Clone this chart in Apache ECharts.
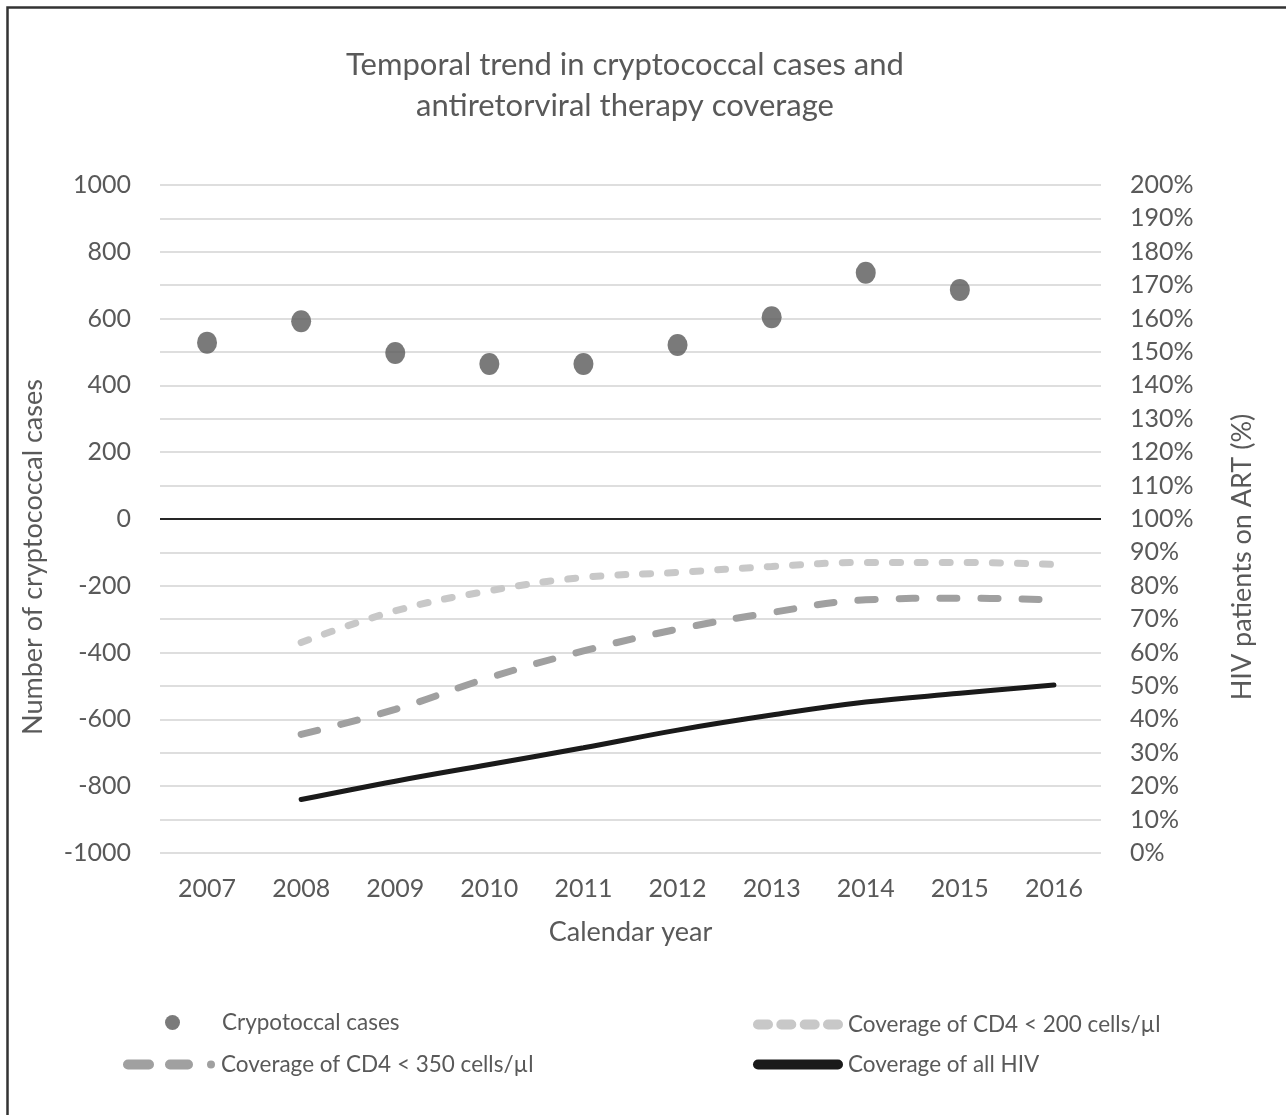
<!DOCTYPE html>
<html>
<head>
<meta charset="utf-8">
<script src="https://cdn.jsdelivr.net/npm/echarts@6/dist/echarts.min.js"></script>
<style>
  html, body { margin: 0; padding: 0; background: #fff; }
  #div1 { width: 1286px; height: 1115px; }
</style>
</head>
<body>
<div id="div1"></div>
<script>
var years = ['2007', '2008', '2009', '2010', '2011', '2012', '2013', '2014', '2015', '2016'];
var cases = [528, 592, 497, 464, 464, 521, 604, 737, 686, null];
var cd4Under200 = [null, 63, 72.5, 78.5, 82.5, 84, 85.8, 87, 87, 86.4];
var cd4Under350 = [null, 35.5, 43, 52.5, 60.5, 67, 72, 75.8, 76.3, 75.8];
var allHiv = [null, 16, 21.5, 26.5, 31.5, 36.8, 41.3, 45.2, 47.8, 50.3];
var leftTicks = { min: -1000, max: 1000, step: 200 };
var rightTicks = { min: 0, max: 200, step: 10 };

// rounded pill from x0, length len, in a 10px high icon box
function pill(x0, len) {
    var r = 5;
    return 'M' + (x0 + r) + ',0 h' + (len - 2 * r) + ' a5,5 0 0 1 0,10 h' + (-(len - 2 * r)) +
        ' a5,5 0 0 1 0,-10 z ';
}

window.onload = function () {
    var font = 'Lato';
    var txt = '#595959';

    // split line colours: black at 100% (= 0 cases)
    var gridColors = [];
    for (var v = rightTicks.min; v <= rightTicks.max; v += rightTicks.step) {
        gridColors.push(v === 100 ? '#262626' : '#dedede');
    }

    var icon200 = 'path://' + pill(0, 20) + pill(23.3, 20) + pill(46.7, 20) + pill(70, 20);
    var icon350 = 'path://' + pill(0, 31) + pill(42, 28) + 'M84,5 a4,4 0 1 0 8,0 a4,4 0 1 0 -8,0 z';
    var iconAll = 'path://' + pill(0, 90);

    function legendAt(left, top, name, icon, w, gap) {
        return {
            left: left,
            top: top,
            data: [{ name: name, icon: icon }],
            itemWidth: w,
            itemHeight: 10,
            textStyle: { fontFamily: font, fontSize: 22.5, color: txt, padding: [0, 0, 0, gap] }
        };
    }

    var option = {
        animation: false,
        backgroundColor: '#fff',
        title: {
            text: 'Temporal trend in cryptococcal cases and\nantiretorviral therapy coverage',
            left: 620,
            top: 39,
            textAlign: 'center',
            textStyle: {
                fontFamily: font,
                fontSize: 31,
                fontWeight: 'normal',
                color: txt,
                lineHeight: 41
            }
        },
        legend: [
            {
                left: 160,
                top: 1006,
                data: [{ name: 'Crypotoccal cases', icon: 'circle' }],
                itemWidth: 15,
                itemHeight: 18,
                textStyle: { fontFamily: font, fontSize: 22.5, color: txt, padding: [0, 0, 0, 37] }
            },
            legendAt(748, 1008, 'Coverage of CD4 < 200 cells/\u00b5l', icon200, 90, 0),
            legendAt(118, 1048, 'Coverage of CD4 < 350 cells/\u00b5l', icon350, 92, 1),
            legendAt(748, 1048, 'Coverage of all HIV', iconAll, 90, 0)
        ],
        grid: {
            left: 160,
            right: 185,
            top: 185,
            bottom: 262
        },
        xAxis: {
            type: 'category',
            data: years,
            name: 'Calendar year',
            nameLocation: 'middle',
            nameGap: 66,
            nameTextStyle: { fontFamily: font, fontSize: 27, color: txt },
            axisLine: { show: false },
            axisTick: { show: false },
            axisLabel: { fontFamily: font, fontSize: 25, color: txt, margin: 23 }
        },
        yAxis: [{
            type: 'value',
            min: leftTicks.min,
            max: leftTicks.max,
            interval: leftTicks.step,
            name: 'Number of cryptococcal cases',
            nameLocation: 'middle',
            nameGap: 113,
            nameTextStyle: { fontFamily: font, fontSize: 27, color: txt, padding: [0, 76, 0, 0] },
            axisLine: { show: false },
            axisTick: { show: false },
            splitLine: { show: false },
            axisLabel: {
                fontFamily: font, fontSize: 25, color: txt, margin: 29,
                formatter: function (val) { return String(val); }
            }
        }, {
            type: 'value',
            min: rightTicks.min,
            max: rightTicks.max,
            interval: rightTicks.step,
            name: 'HIV patients on ART (%)',
            nameLocation: 'middle',
            nameGap: 128,
            nameTextStyle: { fontFamily: font, fontSize: 27, color: txt, padding: [0, 76, 0, 0] },
            axisLine: { show: false },
            axisTick: { show: false },
            splitLine: { show: true, lineStyle: { color: gridColors, width: 2 } },
            axisLabel: { fontFamily: font, fontSize: 25, color: txt, margin: 29, formatter: '{value}%' }
        }],
        series: [{
            name: 'Crypotoccal cases',
            type: 'scatter',
            yAxisIndex: 0,
            data: cases,
            symbol: 'circle',
            symbolSize: [20, 22],
            itemStyle: { color: '#595959' },
            z: 5
        }, {
            name: 'Coverage of CD4 < 200 cells/\u00b5l',
            type: 'line',
            yAxisIndex: 1,
            data: cd4Under200,
            smooth: 0.4,
            symbol: 'none',
            lineStyle: { color: '#c8c8c8', width: 7, type: [8, 17], cap: 'round' },
            itemStyle: { color: '#c8c8c8' }
        }, {
            name: 'Coverage of CD4 < 350 cells/\u00b5l',
            type: 'line',
            yAxisIndex: 1,
            data: cd4Under350,
            smooth: 0.4,
            symbol: 'none',
            lineStyle: { color: '#a0a0a0', width: 7, type: [17, 24], cap: 'round' },
            itemStyle: { color: '#a0a0a0' }
        }, {
            name: 'Coverage of all HIV',
            type: 'line',
            yAxisIndex: 1,
            data: allHiv,
            smooth: 0.4,
            symbol: 'none',
            lineStyle: { color: '#1a1a1a', width: 5, cap: 'round' },
            itemStyle: { color: '#1a1a1a' }
        }],
        graphic: [{
            type: 'rect',
            shape: { x: 7.5, y: 7.5, width: 1400, height: 1300 },
            style: { fill: 'none', stroke: '#333', lineWidth: 2.5 },
            silent: true
        }]
    };

    var charts = echarts.init(document.getElementById('div1'));
    charts.setOption(option);
};
</script>
</body>
</html>
